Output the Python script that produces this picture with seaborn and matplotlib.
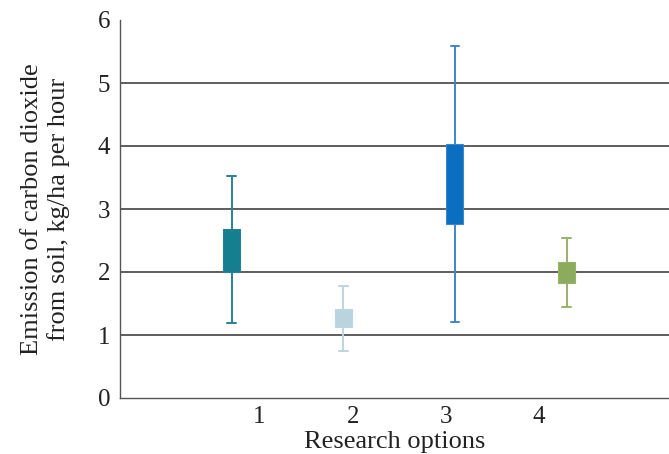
import pandas as pd
import seaborn as sns
import matplotlib.pyplot as plt

# values (kg/ha per hour)
options = ['1', '2', '3', '4']
w_low = [1.19, 0.75, 1.21, 1.45]
q1 = [2.00, 1.12, 2.76, 1.82]
med = [2.35, 1.27, 3.40, 2.00]   # median not drawn in the original
q3 = [2.69, 1.41, 4.03, 2.16]
w_high = [3.52, 1.77, 5.58, 2.54]

box_colors = ['#167f8f', '#b9d3df', '#0a6fc0', '#8cab5c']
line_colors = ['#2a7f96', '#bcd5e1', '#3f86c8', '#98b26a']
box_pos = [0.7, 1.9, 3.1, 4.3]

rows = []
for i, opt in enumerate(options):
    for v in [w_low[i], q1[i], med[i], q3[i], w_high[i]]:
        rows.append({'option': opt, 'pos': box_pos[i], 'value': v})
df = pd.DataFrame(rows)

sns.set_style('white')
plt.rcParams['font.family'] = ['Liberation Serif', 'DejaVu Serif']

fig = plt.figure(figsize=(6.69, 4.54), dpi=100)
ax = fig.add_axes([120 / 669, 56 / 454, 549 / 669, 378 / 454])

sns.boxplot(data=df, x='pos', y='value', hue='option', palette=box_colors,
            native_scale=True, whis=(0, 100), width=0.152, dodge=False,
            saturation=1, legend=False, linewidth=1.4, ax=ax)

for cont, lc in zip(ax.containers, line_colors):
    for b in cont.boxes:
        b.set_edgecolor(lc)
        b.set_linewidth(0.8)
    for l in list(cont.whiskers) + list(cont.caps):
        l.set_color(lc)
        l.set_linewidth(1.4)
    for m in cont.medians:
        m.set_visible(False)

ax.set_xlim(-0.5, 5.4)
ax.set_ylim(0, 6)
ax.set_xticks(range(6))
ax.set_xticklabels(['', '1', '2', '3', '4', ''])
ax.set_yticks(range(7))

ax.set_axisbelow(True)
ax.yaxis.grid(True, color='#505050', linewidth=1.3)
gl = ax.get_ygridlines()
gl[0].set_visible(False)
gl[-1].set_visible(False)

for s in ['top', 'right']:
    ax.spines[s].set_visible(False)
for s in ['left', 'bottom']:
    ax.spines[s].set_color('#555555')
    ax.spines[s].set_linewidth(1.0)

ax.tick_params(direction='in', length=5, width=1, color='#555555',
               labelsize=18, labelcolor='#222222')
ax.tick_params(axis='y', pad=7)
ax.tick_params(axis='x', pad=6)
ax.set_xlabel('Research options', fontsize=19, color='#222222', labelpad=2)
ax.set_ylabel('Emission of carbon dioxide\nfrom soil, kg/ha per hour',
              fontsize=19, color='#222222', labelpad=20, linespacing=1.25)

plt.savefig('out.png', dpi=100)
